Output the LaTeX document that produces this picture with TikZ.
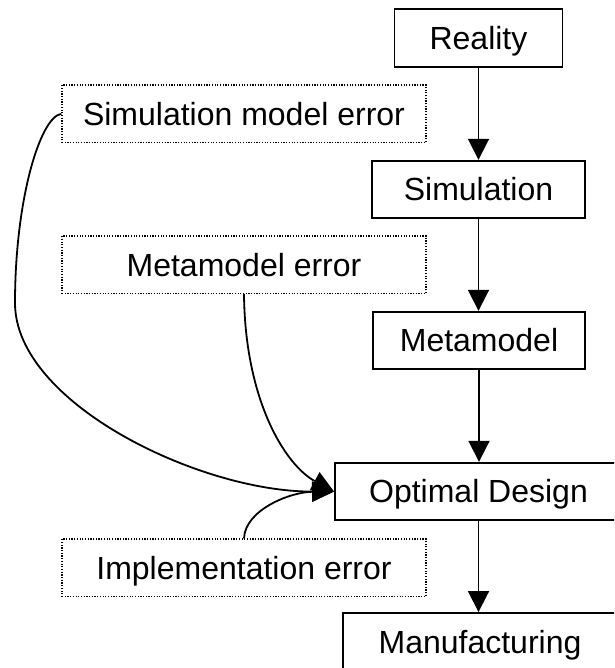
\documentclass[tikz,border=0pt]{standalone}
\usepackage{fontspec}
\setmainfont{Liberation Sans}
\usetikzlibrary{arrows.meta}
\begin{document}
\begin{tikzpicture}[x=1pt,y=-1pt,
  mainbox/.style={draw, line width=1.9pt, minimum height=57.5pt, inner sep=0pt,
    text height=22.9pt, text depth=0pt, font=\fontsize{32}{38}\selectfont},
  errbox/.style={draw, line width=1.3pt, dash pattern=on 1.2pt off 1.5pt,
    minimum width=364pt, minimum height=57.5pt, inner sep=0pt,
    text height=22.9pt, text depth=0pt, font=\fontsize{32}{38}\selectfont},
  flow/.style={line width=1.9pt, -{Triangle[length=21pt,width=21pt]}},
  errline/.style={line width=1.8pt, -{Triangle[length=22pt,width=20pt]}}]
\useasboundingbox (0,0) rectangle (614,668);
\clip (0,0) rectangle (614,668);
\node[mainbox, minimum width=168pt] (re) at (478.5,38) {Reality};
\node[mainbox, minimum width=213pt] (si) at (478.5,189.5) {Simulation};
\node[mainbox, minimum width=212pt] (me) at (479,340.5) {Metamodel};
\node[mainbox, minimum width=287pt] (od) at (478.5,491.5) {Optimal Design};
\node[mainbox, minimum width=274pt] (mf) at (480,641.75) {Manufacturing};
\node[errbox] (sme) at (244,113.8) {Simulation model error};
\node[errbox] (mme) at (244,264.7) {Metamodel error};
\node[errbox] (ime) at (244,567.8) {Implementation error};
\draw[flow] (re.south) -- (re.south |- si.north);
\draw[flow] (si.south) -- (si.south |- me.north);
\draw[flow] (me.south) -- (me.south |- od.north);
\draw[flow] (od.south) -- (od.south |- mf.north);
\draw[errline] (sme.west) .. controls (40,117) and (15,200) .. (15,303)
  .. controls (15,403) and (200,492) .. (od.west);
\draw[errline] (mme.south) .. controls (245,400) and (285,465) .. (od.west);
\draw[errline] (ime.north) .. controls (245,510) and (290,492) .. (od.west);
\end{tikzpicture}
\end{document}
